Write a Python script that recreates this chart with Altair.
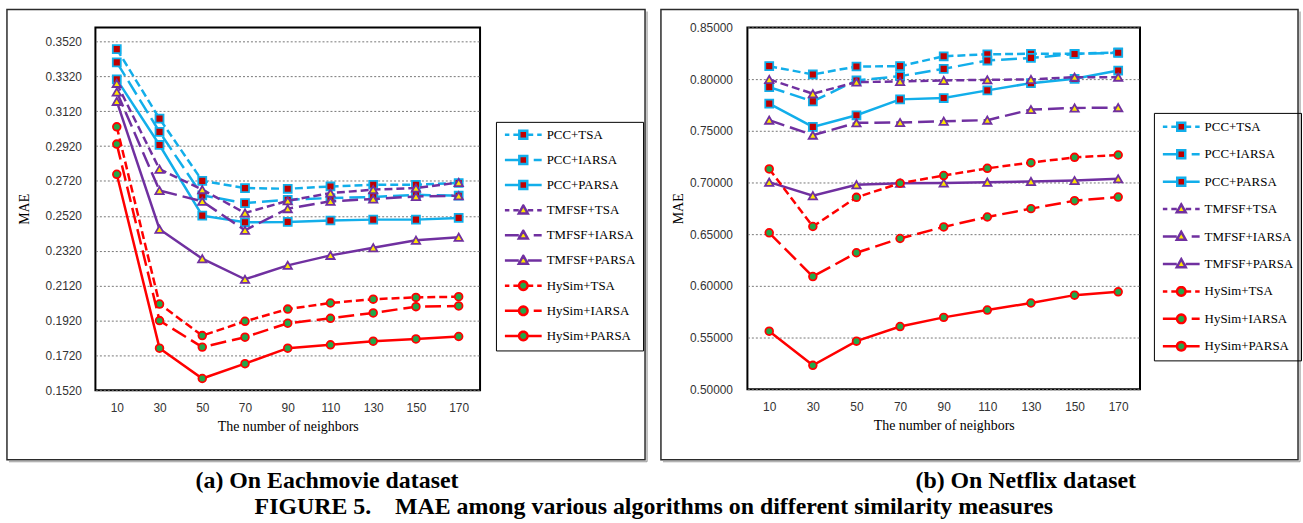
import math
import altair as alt
import pandas as pd

# ---- data -------------------------------------------------------------
neighbors = [10, 30, 50, 70, 90, 110, 130, 150, 170]
series_names = [
    "PCC+TSA", "PCC+IARSA", "PCC+PARSA",
    "TMFSF+TSA", "TMFSF+IARSA", "TMFSF+PARSA",
    "HySim+TSA", "HySim+IARSA", "HySim+PARSA",
]

# MAE on Eachmovie
em_pcc_tsa = [0.3476, 0.3077, 0.2720, 0.2679, 0.2675, 0.2688, 0.2698, 0.2698, 0.2708]
em_pcc_iarsa = [0.3400, 0.3001, 0.2637, 0.2593, 0.2612, 0.2622, 0.2628, 0.2640, 0.2635]
em_pcc_parsa = [0.3302, 0.2926, 0.2521, 0.2483, 0.2485, 0.2493, 0.2498, 0.2498, 0.2508]
em_tmfsf_tsa = [0.3279, 0.2787, 0.2670, 0.2536, 0.2606, 0.2650, 0.2670, 0.2679, 0.2711]
em_tmfsf_iarsa = [0.3230, 0.2665, 0.2603, 0.2437, 0.2561, 0.2603, 0.2616, 0.2631, 0.2635]
em_tmfsf_parsa = [0.3176, 0.2443, 0.2274, 0.2156, 0.2236, 0.2293, 0.2337, 0.2380, 0.2397]
em_hysim_tsa = [0.3030, 0.2014, 0.1833, 0.1915, 0.1985, 0.2020, 0.2042, 0.2052, 0.2056]
em_hysim_iarsa = [0.2931, 0.1919, 0.1767, 0.1824, 0.1904, 0.1932, 0.1963, 0.1999, 0.2003]
em_hysim_parsa = [0.2758, 0.1761, 0.1587, 0.1672, 0.1761, 0.1780, 0.1801, 0.1814, 0.1828]

# MAE on Netflix
nf_pcc_tsa = [0.8125, 0.8045, 0.8122, 0.8125, 0.8221, 0.8240, 0.8245, 0.8245, 0.8259]
nf_pcc_iarsa = [0.7923, 0.7785, 0.7987, 0.8029, 0.8099, 0.8180, 0.8205, 0.8243, 0.8255]
nf_pcc_parsa = [0.7763, 0.7538, 0.7650, 0.7804, 0.7817, 0.7891, 0.7961, 0.8003, 0.8083]
nf_tmfsf_tsa = [0.7997, 0.7859, 0.7971, 0.7977, 0.7987, 0.7993, 0.7997, 0.8019, 0.8019]
nf_tmfsf_iarsa = [0.7603, 0.7458, 0.7577, 0.7580, 0.7593, 0.7603, 0.7705, 0.7721, 0.7724]
nf_tmfsf_parsa = [0.7003, 0.6872, 0.6978, 0.6993, 0.6995, 0.7003, 0.7010, 0.7019, 0.7035]
nf_hysim_tsa = [0.7131, 0.6574, 0.6856, 0.6993, 0.7067, 0.7137, 0.7192, 0.7243, 0.7266]
nf_hysim_iarsa = [0.6513, 0.6090, 0.6320, 0.6458, 0.6570, 0.6666, 0.6747, 0.6824, 0.6859]
nf_hysim_parsa = [0.5561, 0.5231, 0.5465, 0.5606, 0.5695, 0.5766, 0.5834, 0.5910, 0.5942]

em_ticks = [0.152, 0.172, 0.192, 0.212, 0.232, 0.252, 0.272, 0.292, 0.312, 0.332, 0.352]
nf_ticks = [0.50, 0.55, 0.60, 0.65, 0.70, 0.75, 0.80, 0.85]

# ---- styles -----------------------------------------------------------
CYAN = "#12AEEA"
PURPLE = "#7030A0"
RED = "#FF0000"
SHORT_DASH = [8, 4]
LONG_DASH = [16, 6]

MARKERS = {
    "square": dict(shape="square", size=64, fill="#C00000", half=4.0),
    "triangle": dict(shape="triangle-up", size=70, fill="#FFE600", half=4.5),
    "circle": dict(shape="circle", size=60, fill="#22A84A", half=4.5),
}

STYLE = {
    "PCC+TSA": (CYAN, SHORT_DASH, "square"),
    "PCC+IARSA": (CYAN, LONG_DASH, "square"),
    "PCC+PARSA": (CYAN, None, "square"),
    "TMFSF+TSA": (PURPLE, SHORT_DASH, "triangle"),
    "TMFSF+IARSA": (PURPLE, LONG_DASH, "triangle"),
    "TMFSF+PARSA": (PURPLE, None, "triangle"),
    "HySim+TSA": (RED, SHORT_DASH, "circle"),
    "HySim+IARSA": (RED, LONG_DASH, "circle"),
    "HySim+PARSA": (RED, None, "circle"),
}

SANS = "Liberation Sans"
SERIF = "Liberation Serif"

# Legend glyphs: a line sample with the marker in its middle, drawn as one
# custom symbol path (unit box scaled by sqrt(size)/2 = 19 px).
HALF = 19.0
SYMBOL_SIZE = (2 * HALF) ** 2


def u(v):
    return f"{v / HALF:.4f}"


def marker_path(kind):
    if kind == "square":
        return f"M{u(-4)},{u(-4)}H{u(4)}V{u(4)}H{u(-4)}Z"
    if kind == "triangle":
        return f"M0,{u(-4.8)}L{u(4.5)},{u(3.2)}H{u(-4.5)}Z"
    pts = []
    for i in range(24):
        t = 2 * math.pi * i / 24
        pts.append(f"{u(4.3 * math.cos(t))},{u(4.3 * math.sin(t))}")
    return "M" + "L".join(pts) + "Z"


def legend_glyph(name):
    _, dash, kind = STYLE[name]
    m = MARKERS[kind]["half"]
    if dash is SHORT_DASH:
        segs = [(-18.5, -14.0), (-10.0, -m), (m, 10.0), (14.0, 18.5)]
    elif dash is LONG_DASH:
        segs = [(-18.5, -m), (10.5, 18.5)]
    else:
        segs = [(-18.5, -m), (m, 18.5)]
    lines = "".join(f"M{u(a)},0H{u(b)}" for a, b in segs)
    return lines + marker_path(kind)


def long_table(columns):
    rows = []
    for name, ys in zip(series_names, columns):
        for k, v in zip(neighbors, ys):
            rows.append({"k": k, "series": name, "mae": v})
    return pd.DataFrame(rows)


one_row = pd.DataFrame({"i": [0]})


def panel(columns, y_domain, y_ticks, y_format, width, height, frame,
          legend_xy, legend_row_pad, legend_clip, y_label_pad, y_title_pad,
          caption, caption_xy):
    df = long_table(columns)
    base = alt.Chart(df)

    x_enc = alt.X(
        "k:O",
        scale=alt.Scale(type="point", domain=neighbors, padding=0.5),
        axis=alt.Axis(title="The number of neighbors", labelAngle=0,
                      labelPadding=12, titlePadding=7, grid=False),
    )
    y_enc = alt.Y(
        "mae:Q",
        scale=alt.Scale(domain=y_domain, nice=False, zero=False),
        axis=alt.Axis(title="MAE", values=y_ticks, format=y_format,
                      labelPadding=y_label_pad, titlePadding=y_title_pad,
                      grid=True, gridColor="#777777", gridDash=[2, 2],
                      gridWidth=1),
    )

    x0, x1, y0, y1 = frame
    layers = [
        alt.Chart(one_row).mark_rect(
            fillOpacity=0, stroke="#2b2b2b", strokeWidth=1.5
        ).encode(x=alt.value(x0), x2=alt.value(x1),
                 y=alt.value(y0), y2=alt.value(y1)),
        alt.Chart(one_row).mark_rule(stroke="#9a9a9a", strokeWidth=1.2).encode(
            x=alt.value(x0 + 2), x2=alt.value(x1 + 2),
            y=alt.value(y1 + 2), y2=alt.value(y1 + 2)),
        alt.Chart(one_row).mark_rule(stroke="#9a9a9a", strokeWidth=1.2).encode(
            x=alt.value(x1 + 2), x2=alt.value(x1 + 2),
            y=alt.value(y0 + 2), y2=alt.value(y1 + 2)),
    ]

    for name in series_names:
        color, dash, kind = STYLE[name]
        mk = MARKERS[kind]
        sub = base.transform_filter(alt.datum.series == name)
        line_kw = dict(color=color, strokeWidth=2.5)
        if dash:
            line_kw["strokeDash"] = dash
        layers.append(sub.mark_line(**line_kw).encode(x=x_enc, y=y_enc))
        layers.append(
            sub.mark_point(shape=mk["shape"], size=mk["size"], filled=True,
                           fill=mk["fill"], stroke=color, strokeWidth=1.8,
                           opacity=1).encode(x=x_enc, y=y_enc)
        )

    legend = alt.Legend(
        title=None, orient="none", legendX=legend_xy[0], legendY=legend_xy[1],
        symbolSize=SYMBOL_SIZE, symbolStrokeWidth=2.5, clipHeight=legend_clip,
        rowPadding=legend_row_pad, padding=7, labelOffset=3,
        labelFont=SERIF, labelFontSize=13, labelColor="black",
        strokeColor="black", labelLimit=200,
    )
    glyphs = [legend_glyph(n) for n in series_names]
    fills = [MARKERS[STYLE[n][2]]["fill"] for n in series_names]
    strokes = [STYLE[n][0] for n in series_names]
    layers.append(
        base.transform_filter("false").mark_point(
            filled=True, size=SYMBOL_SIZE, strokeWidth=2.5, opacity=1
        ).encode(
            shape=alt.Shape("series:N", scale=alt.Scale(domain=series_names, range=glyphs), legend=legend),
            fill=alt.Fill("series:N", scale=alt.Scale(domain=series_names, range=fills), legend=legend),
            stroke=alt.Stroke("series:N", scale=alt.Scale(domain=series_names, range=strokes), legend=legend),
        )
    )

    layers.append(
        alt.Chart(one_row).mark_text(
            text=caption, font=SERIF, fontSize=24, fontWeight="bold",
            align="center", baseline="alphabetic", color="black",
        ).encode(x=alt.value(caption_xy[0]), y=alt.value(caption_xy[1]))
    )

    return alt.layer(*layers).properties(width=width, height=height)


left = panel(
    [em_pcc_tsa, em_pcc_iarsa, em_pcc_parsa, em_tmfsf_tsa, em_tmfsf_iarsa,
     em_tmfsf_parsa, em_hysim_tsa, em_hysim_iarsa, em_hysim_parsa],
    y_domain=[0.152, 0.36], y_ticks=em_ticks, y_format=".4f",
    width=387, height=365, frame=(-89, 553, -18, 435),
    legend_xy=(403, 95), legend_row_pad=12.3, legend_clip=12,
    y_label_pad=14, y_title_pad=14,
    caption="(a) On Eachmovie dataset", caption_xy=(233, 463),
)

right = panel(
    [nf_pcc_tsa, nf_pcc_iarsa, nf_pcc_parsa, nf_tmfsf_tsa, nf_tmfsf_iarsa,
     nf_tmfsf_parsa, nf_hysim_tsa, nf_hysim_iarsa, nf_hysim_parsa],
    y_domain=[0.50, 0.85], y_ticks=nf_ticks, y_format=".5f",
    width=395, height=364, frame=(-87, 554, -18, 435),
    legend_xy=(409, 86), legend_row_pad=13.6, legend_clip=14,
    y_label_pad=15, y_title_pad=4,
    caption="(b) On Netflix dataset", caption_xy=(280, 463),
)

chart = (
    alt.hconcat(left, right, spacing=10)
    .resolve_scale(x="independent", y="independent", shape="independent",
                   fill="independent", stroke="independent")
    .resolve_legend(shape="independent", fill="independent", stroke="independent")
    .properties(
        title=alt.TitleParams(
            "FIGURE 5.\u00a0\u00a0\u00a0\u00a0MAE among various algorithms on different similarity measures",
            orient="bottom", anchor="middle", font=SERIF, fontSize=24,
            fontWeight="bold", color="black", offset=2,
        ),
        padding={"left": 5, "top": 6, "right": 0, "bottom": 0},
        background="white",
    )
    .configure_view(stroke="black", strokeWidth=2)
    .configure_axis(
        labelFont=SANS, labelFontSize=12, labelColor="#333333",
        titleFont=SERIF, titleFontSize=14, titleFontWeight="normal",
        titleColor="black", domain=False, ticks=False,
    )
    .configure_legend(
        labelFont=SERIF, labelFontSize=13, labelColor="black",
        strokeColor="black", padding=7,
    )
)

chart.save("out.html", embed_options={"renderer": "svg", "actions": False})
